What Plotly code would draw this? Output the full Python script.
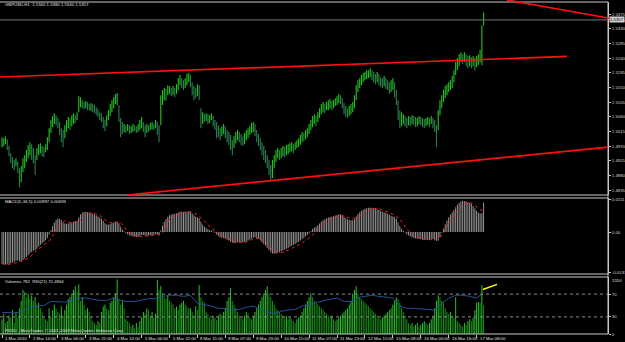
import plotly.graph_objects as go

# ---------------- data ----------------
highs = [
 1.4997, 1.4994, 1.5000, 1.4991, 1.4970, 1.4948, 1.4936, 1.4927, 1.4933, 1.4921,
 1.4902, 1.4909, 1.4933, 1.4942, 1.4958, 1.4973, 1.4982, 1.4976, 1.4964, 1.4942,
 1.4964, 1.4976, 1.4979, 1.4970, 1.4967, 1.4976, 1.4997, 1.5025, 1.5050, 1.5062,
 1.5071, 1.5065, 1.5056, 1.5044, 1.5025, 1.5019, 1.5034, 1.5050, 1.5059, 1.5056,
 1.5065, 1.5071, 1.5065, 1.5074, 1.5123, 1.5120, 1.5111, 1.5105, 1.5108, 1.5105,
 1.5099, 1.5102, 1.5099, 1.5096, 1.5090, 1.5083, 1.5074, 1.5071, 1.5059, 1.5050,
 1.5065, 1.5080, 1.5099, 1.5111, 1.5120, 1.5130, 1.5133, 1.5096, 1.5056, 1.5044,
 1.5038, 1.5034, 1.5038, 1.5034, 1.5031, 1.5038, 1.5034, 1.5031, 1.5038, 1.5050,
 1.5059, 1.5044, 1.5034, 1.5038, 1.5034, 1.5041, 1.5044, 1.5038, 1.5050, 1.5044,
 1.5034, 1.5126, 1.5142, 1.5148, 1.5145, 1.5157, 1.5154, 1.5148, 1.5154, 1.5148,
 1.5160, 1.5178, 1.5188, 1.5178, 1.5172, 1.5178, 1.5191, 1.5194, 1.5188, 1.5166,
 1.5154, 1.5148, 1.5160, 1.5157, 1.5086, 1.5074, 1.5068, 1.5071, 1.5068, 1.5065,
 1.5071, 1.5062, 1.5050, 1.5044, 1.5034, 1.5025, 1.5031, 1.5038, 1.5031, 1.5019,
 1.5013, 1.5004, 1.4988, 1.5000, 1.5013, 1.5019, 1.5013, 1.5007, 1.5000, 1.5010,
 1.5019, 1.5025, 1.5031, 1.5041, 1.5044, 1.5038, 1.5019, 1.5007, 1.4994, 1.4982,
 1.4970, 1.4958, 1.4942, 1.4927, 1.4912, 1.4927, 1.4942, 1.4958, 1.4964, 1.4958,
 1.4964, 1.4970, 1.4967, 1.4973, 1.4976, 1.4979, 1.4982, 1.4976, 1.4982, 1.4988,
 1.4994, 1.5004, 1.5013, 1.5010, 1.5019, 1.5025, 1.5038, 1.5050, 1.5062, 1.5068,
 1.5062, 1.5074, 1.5086, 1.5099, 1.5105, 1.5099, 1.5105, 1.5111, 1.5114, 1.5108,
 1.5111, 1.5117, 1.5123, 1.5130, 1.5126, 1.5117, 1.5102, 1.5093, 1.5086, 1.5093,
 1.5099, 1.5105, 1.5126, 1.5157, 1.5172, 1.5178, 1.5188, 1.5194, 1.5197, 1.5203,
 1.5203, 1.5209, 1.5203, 1.5197, 1.5191, 1.5197, 1.5191, 1.5181, 1.5178, 1.5185,
 1.5178, 1.5172, 1.5166, 1.5172, 1.5178, 1.5166, 1.5142, 1.5111, 1.5080, 1.5074,
 1.5068, 1.5062, 1.5056, 1.5062, 1.5059, 1.5065, 1.5062, 1.5059, 1.5056, 1.5062,
 1.5059, 1.5056, 1.5053, 1.5056, 1.5059, 1.5056, 1.5062, 1.5056, 1.5050, 1.5034,
 1.5080, 1.5111, 1.5126, 1.5142, 1.5154, 1.5160, 1.5166, 1.5172, 1.5185, 1.5203,
 1.5228, 1.5240, 1.5252, 1.5258, 1.5252, 1.5258, 1.5252, 1.5246, 1.5249, 1.5243,
 1.5246, 1.5240, 1.5246, 1.5252, 1.5265, 1.5341, 1.5380,
]
lows = [
 1.4966, 1.4970, 1.4976, 1.4958, 1.4939, 1.4918, 1.4902, 1.4896, 1.4909, 1.4887,
 1.4844, 1.4859, 1.4890, 1.4902, 1.4921, 1.4933, 1.4942, 1.4927, 1.4918, 1.4881,
 1.4927, 1.4942, 1.4948, 1.4939, 1.4936, 1.4951, 1.4958, 1.4982, 1.5010, 1.5028,
 1.5038, 1.5034, 1.5025, 1.5004, 1.4982, 1.4967, 1.4994, 1.5013, 1.5025, 1.5019,
 1.5031, 1.5038, 1.5041, 1.5050, 1.5074, 1.5089, 1.5086, 1.5083, 1.5086, 1.5080,
 1.5080, 1.5077, 1.5074, 1.5071, 1.5065, 1.5059, 1.5050, 1.5044, 1.5025, 1.5016,
 1.5031, 1.5050, 1.5062, 1.5074, 1.5086, 1.5099, 1.5096, 1.5044, 1.4997, 1.5007,
 1.5013, 1.5010, 1.5016, 1.5007, 1.5010, 1.5013, 1.5016, 1.5010, 1.5013, 1.5019,
 1.5025, 1.5013, 1.4997, 1.5010, 1.5013, 1.5019, 1.5022, 1.5019, 1.5025, 1.5004,
 1.4982, 1.5034, 1.5096, 1.5111, 1.5108, 1.5126, 1.5130, 1.5123, 1.5126, 1.5120,
 1.5130, 1.5142, 1.5157, 1.5148, 1.5142, 1.5148, 1.5157, 1.5166, 1.5151, 1.5126,
 1.5111, 1.5117, 1.5123, 1.5111, 1.5025, 1.5038, 1.5044, 1.5047, 1.5038, 1.5041,
 1.5050, 1.5031, 1.5019, 1.4994, 1.4997, 1.4988, 1.5000, 1.5007, 1.4994, 1.4982,
 1.4973, 1.4958, 1.4942, 1.4964, 1.4979, 1.4988, 1.4982, 1.4973, 1.4970, 1.4976,
 1.4988, 1.4994, 1.5004, 1.5010, 1.5013, 1.5000, 1.4982, 1.4970, 1.4958, 1.4942,
 1.4927, 1.4918, 1.4902, 1.4881, 1.4866, 1.4872, 1.4902, 1.4921, 1.4933, 1.4927,
 1.4933, 1.4939, 1.4936, 1.4942, 1.4945, 1.4951, 1.4954, 1.4948, 1.4958, 1.4964,
 1.4967, 1.4973, 1.4982, 1.4985, 1.4991, 1.4997, 1.5007, 1.5019, 1.5028, 1.5038,
 1.5031, 1.5044, 1.5056, 1.5068, 1.5074, 1.5071, 1.5080, 1.5080, 1.5086, 1.5080,
 1.5086, 1.5093, 1.5096, 1.5102, 1.5099, 1.5086, 1.5068, 1.5059, 1.5056, 1.5062,
 1.5068, 1.5074, 1.5086, 1.5111, 1.5136, 1.5148, 1.5157, 1.5166, 1.5172, 1.5175,
 1.5178, 1.5181, 1.5172, 1.5166, 1.5160, 1.5166, 1.5157, 1.5151, 1.5148, 1.5154,
 1.5145, 1.5142, 1.5130, 1.5136, 1.5142, 1.5120, 1.5096, 1.5050, 1.5025, 1.5031,
 1.5038, 1.5031, 1.5025, 1.5034, 1.5031, 1.5038, 1.5034, 1.5028, 1.5031, 1.5038,
 1.5034, 1.5028, 1.5025, 1.5031, 1.5034, 1.5028, 1.5038, 1.5025, 1.5013, 1.4967,
 1.5019, 1.5065, 1.5086, 1.5105, 1.5117, 1.5126, 1.5136, 1.5142, 1.5148, 1.5166,
 1.5188, 1.5203, 1.5215, 1.5228, 1.5221, 1.5228, 1.5215, 1.5209, 1.5215, 1.5209,
 1.5215, 1.5203, 1.5212, 1.5218, 1.5228, 1.5218, 1.5340,
]
macd_hist = [
 -0.0108, -0.0110, -0.0111, -0.0110, -0.0108, -0.0106, -0.0104, -0.0101, -0.0098, -0.0097,
 -0.0098, -0.0099, -0.0095, -0.0090, -0.0085, -0.0079, -0.0073, -0.0068, -0.0063, -0.0062,
 -0.0057, -0.0050, -0.0044, -0.0039, -0.0034, -0.0028, -0.0020, -0.0008, 0.0006, 0.0020,
 0.0032, 0.0041, 0.0046, 0.0045, 0.0040, 0.0032, 0.0029, 0.0028, 0.0029, 0.0030,
 0.0032, 0.0035, 0.0037, 0.0038, 0.0050, 0.0060, 0.0066, 0.0068, 0.0068, 0.0067,
 0.0066, 0.0064, 0.0062, 0.0060, 0.0057, 0.0053, 0.0049, 0.0045, 0.0038, 0.0030,
 0.0026, 0.0025, 0.0027, 0.0030, 0.0033, 0.0035, 0.0036, 0.0030, 0.0018, 0.0008,
 0.0002, -0.0004, -0.0008, -0.0011, -0.0013, -0.0015, -0.0016, -0.0017, -0.0016, -0.0013,
 -0.0010, -0.0010, -0.0012, -0.0012, -0.0012, -0.0011, -0.0010, -0.0009, -0.0008, -0.0009,
 -0.0012, 0.0005, 0.0022, 0.0035, 0.0044, 0.0052, 0.0057, 0.0059, 0.0061, 0.0062,
 0.0063, 0.0066, 0.0069, 0.0069, 0.0068, 0.0068, 0.0069, 0.0070, 0.0068, 0.0063,
 0.0057, 0.0052, 0.0050, 0.0047, 0.0035, 0.0025, 0.0018, 0.0013, 0.0009, 0.0006,
 0.0005, 0.0002, -0.0003, -0.0009, -0.0014, -0.0018, -0.0020, -0.0021, -0.0023, -0.0026,
 -0.0029, -0.0033, -0.0037, -0.0038, -0.0037, -0.0035, -0.0034, -0.0034, -0.0035, -0.0034,
 -0.0032, -0.0029, -0.0026, -0.0022, -0.0019, -0.0018, -0.0020, -0.0024, -0.0029, -0.0035,
 -0.0041, -0.0047, -0.0054, -0.0061, -0.0069, -0.0073, -0.0074, -0.0073, -0.0071, -0.0069,
 -0.0066, -0.0063, -0.0060, -0.0057, -0.0054, -0.0050, -0.0047, -0.0044, -0.0041, -0.0037,
 -0.0033, -0.0029, -0.0024, -0.0020, -0.0015, -0.0010, -0.0004, 0.0003, 0.0010, 0.0015,
 0.0018, 0.0023, 0.0029, 0.0035, 0.0040, 0.0043, 0.0046, 0.0049, 0.0051, 0.0052,
 0.0054, 0.0056, 0.0058, 0.0060, 0.0060, 0.0057, 0.0052, 0.0047, 0.0043, 0.0041,
 0.0040, 0.0040, 0.0044, 0.0053, 0.0061, 0.0067, 0.0072, 0.0076, 0.0079, 0.0081,
 0.0082, 0.0083, 0.0082, 0.0080, 0.0078, 0.0077, 0.0075, 0.0072, 0.0069, 0.0067,
 0.0065, 0.0062, 0.0059, 0.0055, 0.0053, 0.0051, 0.0045, 0.0033, 0.0020, 0.0011,
 0.0004, -0.0002, -0.0008, -0.0012, -0.0015, -0.0018, -0.0020, -0.0022, -0.0023, -0.0024,
 -0.0025, -0.0026, -0.0027, -0.0027, -0.0027, -0.0026, -0.0025, -0.0024, -0.0025, -0.0030,
 -0.0030, -0.0018, -0.0002, 0.0012, 0.0026, 0.0039, 0.0050, 0.0059, 0.0067, 0.0075,
 0.0084, 0.0093, 0.0099, 0.0104, 0.0106, 0.0105, 0.0104, 0.0102, 0.0099, 0.0096,
 0.0088, 0.0080, 0.0072, 0.0066, 0.0063, 0.0064, 0.0100,
]
# signal line read every 4th bar
macd_signal = [
 -0.0108, -0.0110, -0.0104, -0.0098, -0.0085, -0.0062, -0.0044, -0.0024, 0.0020, 0.0038,
 0.0030, 0.0036, 0.0062, 0.0066, 0.0057, 0.0036, 0.0029, 0.0033, 0.0001, -0.0012,
 -0.0016, -0.0012, -0.0010, -0.0003, 0.0043, 0.0060, 0.0067, 0.0069, 0.0059, 0.0038,
 0.0012, -0.0001, -0.0020, -0.0029, -0.0036, -0.0034, -0.0024, -0.0021, -0.0041, -0.0065,
 -0.0071, -0.0062, -0.0050, -0.0037, -0.0020, 0.0000, 0.0026, 0.0045, 0.0052, 0.0055,
 0.0045, 0.0050, 0.0068, 0.0080, 0.0080, 0.0070, 0.0060, 0.0044, 0.0010, -0.0012,
 -0.0022, -0.0026, -0.0026, -0.0014, 0.0030, 0.0065, 0.0093, 0.0102, 0.0085, 0.0069,
]
volumes = [
 400, 550, 300, 350, 500, 450, 650, 300, 600, 450,
 700, 900, 1200, 1150, 1000, 1100, 950, 1050, 900, 1000,
 800, 850, 700, 600, 450, 400, 350, 700, 450, 650,
 800, 700, 600, 550, 750, 500, 650, 800, 950, 1000,
 1100, 1200, 1300, 1150, 1350, 900, 1000, 800, 650, 700,
 600, 450, 350, 300, 250, 350, 300, 600, 750, 800,
 700, 650, 850, 900, 1000, 1100, 1480, 950, 800, 900,
 700, 400, 350, 300, 200, 250, 150, 300, 200, 350,
 450, 600, 550, 700, 650, 500, 600, 450, 550, 1470,
 1200, 1300, 1100, 1000, 950, 1050, 900, 850, 800, 700,
 750, 650, 800, 850, 900, 800, 750, 700, 700, 600,
 500, 750, 650, 1330, 1000, 900, 850, 600, 550, 450,
 400, 500, 450, 380, 500, 550, 500, 600, 700, 900,
 1000, 1250, 900, 800, 700, 600, 500, 450, 400, 500,
 600, 550, 450, 400, 500, 600, 700, 800, 900, 1000,
 1100, 1200, 1300, 1100, 1000, 900, 800, 700, 650, 600,
 550, 500, 450, 500, 400, 450, 400, 350, 300, 400,
 450, 500, 600, 700, 800, 900, 1000, 1100, 1000, 900,
 850, 800, 750, 700, 650, 600, 550, 500, 450, 500,
 400, 350, 400, 450, 500, 550, 600, 650, 700, 800,
 900, 1100, 1200, 1300, 1100, 1000, 950, 900, 850, 800,
 750, 700, 650, 600, 550, 500, 450, 400, 450, 500,
 550, 600, 650, 700, 800, 900, 1000, 950, 850, 700,
 600, 500, 400, 300, 250, 300, 200, 250, 300, 200,
 250, 300, 350, 300, 250, 300, 400, 500, 700, 900,
 1050, 1000, 900, 850, 700, 600, 550, 600, 500, 450,
 1000, 350, 300, 250, 200, 300, 250, 350, 400, 350,
 450, 650, 850, 870, 850, 1330, 782,
]
# RSI(21) read every 4th bar
rsi_vals = [
 38, 38, 37, 40, 47, 49, 50, 57, 57, 56,
 59, 63, 63, 61, 59, 59, 63, 59, 57, 57,
 59, 62, 62, 66, 68, 68, 66, 68, 54, 52,
 49, 45, 45, 42, 43, 47, 49, 43, 38, 36,
 40, 42, 43, 49, 52, 56, 59, 61, 63, 57,
 57, 64, 66, 68, 66, 64, 63, 49, 45, 45,
 44, 44, 42, 54, 63, 68, 68, 66, 63, 72.5,
]
time_labels = ["1 Mar 2010", "2 Mar 14:00", "3 Mar 06:00", "3 Mar 22:00", "4 Mar 14:00",
               "5 Mar 06:00", "5 Mar 22:00", "8 Mar 15:00", "9 Mar 07:00", "9 Mar 23:00",
               "10 Mar 15:00", "11 Mar 07:00", "11 Mar 23:00", "12 Mar 15:00", "15 Mar 08:00",
               "16 Mar 00:00", "16 Mar 16:00", "17 Mar 08:00"]
price_ticks = [1.5375, 1.5330, 1.5285, 1.5240, 1.5195, 1.5150, 1.5105, 1.5060,
               1.5015, 1.4970, 1.4925, 1.4880, 1.4835]
macd_ticks = [0.0111, 0.0, -0.0137]
macd_tick_text = ["0.0111", "0.00", "-0.0137"]
rsi_ticks = [70, 30, 0]
last_price = 1.5357
title_text = "GBPUSD,H1  1.5340 1.5380 1.5340 1.5357"
macd_text = "MACD(5,34,5) 0.00997 0.00693"
vol_text = "Volumes 782  RSI(21) 72.4964"
copy_text = "FXDD - MetaTrader, © 2001-2009 MetaQuotes Software Corp."
vol_top_text = "1550"

# trend lines: (bar, price) end points
upper_channel = [(-1.15, 1.5182), (323.8, 1.5245)]
lower_channel = [(71.6, 1.4820), (347.3, 1.4967)]
rsi_trend = [(275.6, 78), (283.7, 87)]

# ---------------- figure ----------------
bars = list(range(len(highs)))
sample_bars = bars[::4]
label_bars = bars[::16]

PLOT_H = 334.0
def py(ypx):
    return (PLOT_H - ypx) / PLOT_H
def pxp(xpx):
    return xpx / 608.0

def segments(xs, y0s, y1s):
    sx, sy = [], []
    for x, a, b in zip(xs, y0s, y1s):
        sx += [x, x, None]
        sy += [a, b, None]
    return sx, sy

mids = [(h + l) / 2 for h, l in zip(highs, lows)]
up_idx = [i for i in bars if i == 0 or mids[i] >= mids[i - 1]]
dn_idx = [i for i in bars if not (i == 0 or mids[i] >= mids[i - 1])]
vup_idx = [i for i in bars if i == 0 or volumes[i] >= volumes[i - 1]]
vdn_idx = [i for i in bars if not (i == 0 or volumes[i] >= volumes[i - 1])]

GREY = '#c8c8c8'
FONT = 'Liberation Sans'
FS = 4.3

fig = go.Figure()
for idx, col in ((up_idx, '#22c422'), (dn_idx, '#2a8050')):
    sx, sy = segments(idx, [lows[i] for i in idx], [highs[i] for i in idx])
    fig.add_trace(go.Scatter(x=sx, y=sy, mode='lines', line=dict(color=col, width=1.1),
                             xaxis='x', yaxis='y', hoverinfo='skip', connectgaps=False))
sx, sy = segments(bars, [0] * len(bars), macd_hist)
fig.add_trace(go.Scatter(x=sx, y=sy, mode='lines', line=dict(color='#bcbcbc', width=0.8),
                         xaxis='x', yaxis='y2', hoverinfo='skip'))
fig.add_trace(go.Scatter(x=sample_bars, y=macd_signal, mode='lines',
                         line=dict(color='#ff2020', width=1, dash='dot'), xaxis='x', yaxis='y2'))
for idx, col in ((vup_idx, '#2cc02c'), (vdn_idx, '#168c16')):
    sx, sy = segments(idx, [0] * len(idx), [volumes[i] for i in idx])
    fig.add_trace(go.Scatter(x=sx, y=sy, mode='lines', line=dict(color=col, width=1.0),
                             xaxis='x', yaxis='y3', hoverinfo='skip'))
fig.add_trace(go.Scatter(x=sample_bars, y=rsi_vals, mode='lines',
                         line=dict(color='#24508f', width=1), xaxis='x', yaxis='y4'))

axis_common = dict(showgrid=False, zeroline=False, automargin=False, side='right', anchor='x',
                   ticks='outside', ticklen=2, tickcolor=GREY, tickwidth=1,
                   tickfont=dict(family=FONT, size=FS, color='#d8d8d8'),
                   showline=True, linecolor=GREY, linewidth=1)

fig.update_layout(
    width=625, height=342,
    margin=dict(l=0, r=17, t=0, b=8, autoexpand=False),
    paper_bgcolor='black', plot_bgcolor='black', showlegend=False,
    font=dict(family=FONT, size=FS, color='#d8d8d8'),
    xaxis=dict(domain=[0, 1], range=[-1.15, 347.3], anchor='y3', showgrid=False, zeroline=False,
               showticklabels=False, ticks='outside', tickvals=label_bars, ticklen=3,
               tickcolor=GREY, tickwidth=1, automargin=False),
    yaxis=dict(domain=[py(195), py(2)], range=[1.4820, 1.5412],
               tickvals=price_ticks, ticktext=[f"{v:.4f}" for v in price_ticks], **axis_common),
    yaxis2=dict(domain=[py(274), py(198)], range=[-0.01428, 0.01156],
                tickvals=macd_ticks, ticktext=macd_tick_text, **axis_common),
    yaxis3=dict(domain=[0, py(277)], range=[0, 1550], showticklabels=False,
                **{k: v for k, v in axis_common.items() if k not in ('ticks',)}),
    yaxis4=dict(overlaying='y3', range=[0, 100], tickvals=rsi_ticks,
                ticktext=[str(v) for v in rsi_ticks], **axis_common),
)

shapes = []
for ypx in (2, 195, 198, 274, 277, 334):
    shapes.append(dict(type='line', xref='paper', yref='paper', x0=0, x1=1, y0=py(ypx), y1=py(ypx),
                       line=dict(color=GREY, width=1)))
shapes.append(dict(type='line', xref='paper', yref='paper', x0=1, x1=1, y0=0, y1=py(2),
                   line=dict(color=GREY, width=1)))
shapes.append(dict(type='line', xref='paper', yref='y', x0=0, x1=1, y0=last_price, y1=last_price,
                   line=dict(color='#7a7a7a', width=1)))
for lv in (70, 30):
    shapes.append(dict(type='line', xref='paper', yref='y4', x0=0, x1=1, y0=lv, y1=lv,
                       line=dict(color='#8a8a8a', width=1, dash='dot')))
shapes.append(dict(type='line', xref='x', yref='y', x0=upper_channel[0][0], y0=upper_channel[0][1],
                   x1=upper_channel[1][0], y1=upper_channel[1][1], line=dict(color='#ff1010', width=1.7)))
shapes.append(dict(type='line', xref='x', yref='y', x0=lower_channel[0][0], y0=lower_channel[0][1],
                   x1=lower_channel[1][0], y1=lower_channel[1][1], line=dict(color='#ff1010', width=1.7)))
shapes.append(dict(type='line', xref='paper', yref='paper', x0=pxp(507), y0=1.0,
                   x1=pxp(625), y1=py(21), line=dict(color='#ff1010', width=1.7)))
shapes.append(dict(type='line', xref='x', yref='y4', x0=rsi_trend[0][0], y0=rsi_trend[0][1],
                   x1=rsi_trend[1][0], y1=rsi_trend[1][1], line=dict(color='#ffff00', width=1.5)))
fig.update_layout(shapes=shapes)

ann = []
def txt(x, y, s, **kw):
    d = dict(x=x, y=y, text=s, showarrow=False, xanchor='left', yanchor='middle',
             font=dict(family=FONT, size=FS, color='#e0e0e0'), xref='paper', yref='paper')
    d.update(kw)
    ann.append(d)

txt(pxp(3), py(5), title_text)
txt(pxp(3), py(201), macd_text)
txt(pxp(3), py(281), vol_text)
txt(pxp(3), py(330), copy_text)
txt(1, py(280), vol_top_text, xshift=2)
for b, lab in zip(label_bars, time_labels):
    txt(b, py(338.5), lab, xref='x', xshift=1)
ann.append(dict(x=1, y=last_price, xref='paper', yref='y', text=str(last_price), showarrow=False,
                xanchor='left', yanchor='middle', xshift=1, bgcolor='#d0d0d0', borderpad=0,
                font=dict(family=FONT, size=FS, color='black')))
fig.update_layout(annotations=ann)

fig.write_html("out.html")
